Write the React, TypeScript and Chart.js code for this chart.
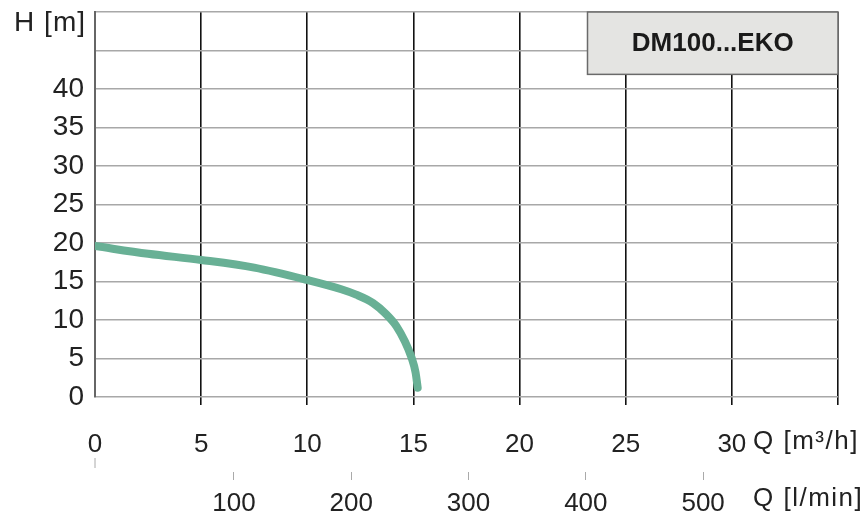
import React, { useEffect, useRef } from "react";
import { Chart, registerables } from "chart.js";

Chart.register(...registerables);

// Flow Q [m³/h] and head H [m] of the pump curve
const flowM3h = [0, 2.5, 5, 7.5, 10, 11.6, 12.3, 13.1, 13.7, 14.2, 14.6, 14.9, 15.1, 15.2];
const headM = [19.6, 18.6, 17.8, 16.8, 15.2, 14.0, 13.3, 12.2, 10.8, 9.2, 7.2, 5.2, 3.2, 1.2];

const yTickValues = [0, 5, 10, 15, 20, 25, 30, 35, 40, 45, 50];
const yTickLabels = ["0", "5", "10", "15", "20", "25", "30", "35", "40"];
const xTickValues = [0, 5, 10, 15, 20, 25, 30, 35];
const xTickLabels = ["0", "5", "10", "15", "20", "25", "30"];
const lminTickValues = [100, 200, 300, 400, 500];
const lminTickLabels = ["100", "200", "300", "400", "500"];

const title = "DM100...EKO";
const yUnit = "H [m]";
const xUnit = "Q [m³/h]";
const x2Unit = "Q [l/min]";

const FONT = "'Liberation Sans', Arial, sans-serif";

export default function App() {
  const ref = useRef<HTMLCanvasElement | null>(null);

  useEffect(() => {
    if (!ref.current) return;
    const overlay = {
      id: "overlay",
      afterDraw(chart: any) {
        const ctx = chart.ctx;
        const xs = chart.scales.x;
        const ys = chart.scales.y;
        ctx.save();
        // title box
        const bx1 = xs.getPixelForValue(23.2);
        const bx2 = xs.getPixelForValue(35);
        const by1 = ys.getPixelForValue(50);
        const by2 = ys.getPixelForValue(41.9);
        ctx.fillStyle = "#e4e4e2";
        ctx.fillRect(bx1, by1, bx2 - bx1, by2 - by1);
        ctx.strokeStyle = "#6a6a6a";
        ctx.lineWidth = 1.5;
        ctx.strokeRect(bx1, by1, bx2 - bx1, by2 - by1);
        ctx.fillStyle = "#1a1a1a";
        ctx.font = `bold 26px ${FONT}`;
        ctx.textAlign = "center";
        ctx.textBaseline = "middle";
        ctx.fillText(title, (bx1 + bx2) / 2, (by1 + by2) / 2 + 1);
        // small mark under the "0" label
        const x0 = xs.getPixelForValue(0);
        ctx.strokeStyle = "#aaa";
        ctx.lineWidth = 1;
        ctx.beginPath();
        ctx.moveTo(x0, 458);
        ctx.lineTo(x0, 468);
        ctx.stroke();
        // axis unit labels
        ctx.fillStyle = "#222";
        ctx.textAlign = "left";
        ctx.font = `26px ${FONT}`;
        (ctx as any).letterSpacing = "1.5px";
        ctx.fillText(xUnit, 753, 442);
        (ctx as any).letterSpacing = "1.5px";
        ctx.fillText(x2Unit, 753, 499);
        (ctx as any).letterSpacing = "1px";
        ctx.textAlign = "right";
        ctx.font = `28px ${FONT}`;
        ctx.fillText(yUnit, 86, 23);
        ctx.restore();
      },
    };

    const chart = new Chart(ref.current, {
      type: "line",
      data: {
        datasets: [
          {
            data: flowM3h.map((q, i) => ({ x: q, y: headM[i] })),
            borderColor: "#68b095",
            borderWidth: 8,
            pointRadius: 0,
            cubicInterpolationMode: "monotone",
            borderCapStyle: "round",
            borderJoinStyle: "round",
            fill: false,
          },
        ],
      },
      options: {
        animation: false,
        responsive: false,
        layout: { padding: { left: 0, right: 30, top: 12, bottom: 0 } },
        plugins: { legend: { display: false }, tooltip: { enabled: false } },
        scales: {
          x: {
            type: "linear",
            position: "bottom",
            min: 0,
            max: 35,
            afterBuildTicks: (s: any) => {
              s.ticks = xTickValues.map((v) => ({ value: v }));
            },
            afterFit: (s: any) => {
              s.height = 75;
            },
            grid: {
              color: (c: any) => (c.tick && c.tick.value === 0 ? "rgba(0,0,0,0)" : "#111"),
              lineWidth: 1.6,
              tickLength: 8,
            },
            border: { display: false },
            ticks: {
              padding: 24,
              color: "#222",
              font: { family: FONT, size: 26 },
              maxRotation: 0,
              callback: (v: any) => {
                const i = xTickLabels.indexOf(String(v));
                return i >= 0 ? xTickLabels[i] : "";
              },
            },
          },
          x2: {
            type: "linear",
            position: "bottom",
            min: -18.5,
            max: 615,
            afterBuildTicks: (s: any) => {
              s.ticks = lminTickValues.map((v) => ({ value: v }));
            },
            afterFit: (s: any) => {
              s.height = 44;
            },
            grid: { drawOnChartArea: false, color: "#aaa", tickLength: 8, lineWidth: 1 },
            border: { display: false },
            ticks: {
              padding: 8,
              color: "#222",
              font: { family: FONT, size: 26 },
              maxRotation: 0,
              callback: (v: any) => {
                const i = lminTickLabels.indexOf(String(v));
                return i >= 0 ? lminTickLabels[i] : "";
              },
            },
          },
          y: {
            type: "linear",
            min: 0,
            max: 50,
            afterBuildTicks: (s: any) => {
              s.ticks = yTickValues.map((v) => ({ value: v }));
            },
            afterFit: (s: any) => {
              s.width = 95;
              s.paddingTop = 0;
              s.paddingBottom = 0;
            },
            grid: { color: "#a8a8a8", lineWidth: 1.6, tickLength: 0, drawTicks: false },
            border: { display: true, color: "#666", width: 2 },
            ticks: {
              padding: 11,
              color: "#222",
              font: { family: FONT, size: 28 },
              callback: (v: any) => {
                const i = yTickLabels.indexOf(String(v));
                return i >= 0 ? yTickLabels[i] : "";
              },
            },
          },
        },
      },
      plugins: [overlay],
    } as any);
    return () => chart.destroy();
  }, []);

  return (
    <div style={{ position: "fixed", left: 0, top: 0, width: 868, height: 516, background: "#fff" }}>
      <canvas ref={ref} width={868} height={516} style={{ width: 868, height: 516 }} />
    </div>
  );
}
